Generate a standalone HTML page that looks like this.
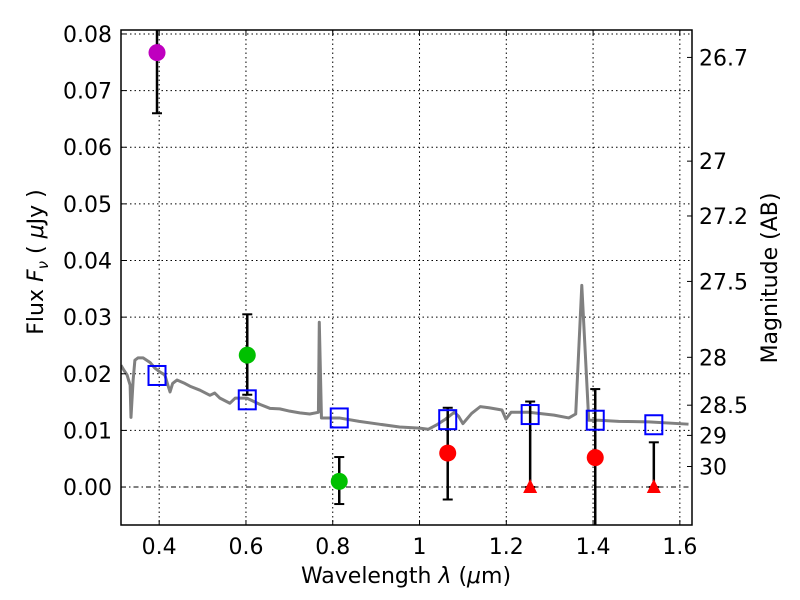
<!DOCTYPE html>
<html><head><meta charset="utf-8"><style>body{margin:0;background:#fff}svg{display:block;font-family:"DejaVu Sans","Liberation Sans",sans-serif}</style></head>
<body>
<svg id="chart" width="800" height="600"></svg>
<script>
const specLam=[0.312,0.319,0.326,0.333,0.335,0.340,0.344,0.351,0.363,0.379,0.390,0.402,0.413,0.420,0.425,0.431,0.441,0.459,0.471,0.494,0.517,0.528,0.540,0.563,0.575,0.586,0.602,0.632,0.655,0.678,0.701,0.724,0.747,0.767,0.769,0.774,0.815,0.861,0.907,0.954,1.0,1.02,1.04,1.06,1.08,1.09,1.10,1.12,1.14,1.16,1.19,1.199,1.211,1.252,1.310,1.344,1.360,1.374,1.390,1.413,1.459,1.528,1.620];
const specFlux=[0.0215,0.0206,0.0198,0.0180,0.0123,0.0189,0.0224,0.0228,0.0228,0.0220,0.0210,0.0203,0.0198,0.0180,0.0168,0.0183,0.0189,0.0183,0.0178,0.0171,0.0162,0.0166,0.0157,0.0148,0.0157,0.0157,0.0157,0.0146,0.0139,0.0138,0.0134,0.0131,0.0129,0.0132,0.0291,0.0122,0.0122,0.0116,0.0111,0.0106,0.0104,0.0102,0.0110,0.0120,0.0132,0.0125,0.0112,0.0130,0.0142,0.0140,0.0136,0.0120,0.0132,0.0132,0.0127,0.0122,0.0129,0.0356,0.0118,0.0118,0.0116,0.0115,0.0111];
const sqLam=[0.395,0.603,0.815,1.065,1.255,1.405,1.54];
const sqFlux=[0.0197,0.0154,0.0122,0.0119,0.0128,0.0118,0.011];
const ptLam=[0.395,0.603,0.815,1.065,1.405];
const ptFlux=[0.0767,0.0233,0.001,0.006,0.0052];
const ptLo=[0.066,0.0163,-0.003,-0.0022,-0.01];
const ptHi=[0.09,0.0305,0.0053,0.014,0.0173];
const ptColor=["#bf00bf","#00c000","#00c000","#ff0000","#ff0000"];
const triLam=[1.255,1.54];
const triHi=[0.0151,0.0079];
const xTicks=[0.4,0.6,0.8,1.0,1.2,1.4,1.6];
const xTickLabels=["0.4","0.6","0.8","1","1.2","1.4","1.6"];
const yTicks=[0,0.01,0.02,0.03,0.04,0.05,0.06,0.07,0.08];
const yTickLabels=["0.00","0.01","0.02","0.03","0.04","0.05","0.06","0.07","0.08"];
const magTicks=[26.7,27,27.2,27.5,28,28.5,29,30];

const L=121,R=692,T=30,B=525;
const x0=0.312,x1=1.628,y0=-0.0067,y1=0.0807;
const X=v=>L+(v-x0)/(x1-x0)*(R-L);
const Y=v=>B-(v-y0)/(y1-y0)*(B-T);
const svg=document.getElementById('chart');
const NS='http://www.w3.org/2000/svg';
function mk(t,a,p){const e=document.createElementNS(NS,t);for(const k in a)e.setAttribute(k,a[k]);(p||svg).appendChild(e);return e;}
const clip=mk('clipPath',{id:'pc'});mk('rect',{x:L,y:T,width:R-L,height:B-T},clip);
const plot=mk('g',{'clip-path':'url(#pc)'});


xTicks.forEach((t,i)=>{
 const g=mk('line',{x1:X(t),x2:X(t),y1:T,y2:B,stroke:'#000','stroke-dasharray':'1.5,3','stroke-width':1},plot);
 
 mk('line',{x1:X(t),x2:X(t),y1:B,y2:B-5,stroke:'#000'});
 mk('line',{x1:X(t),x2:X(t),y1:T,y2:T+5,stroke:'#000'});
 const tx=mk('text',{x:X(t),y:B+29,'text-anchor':'middle','font-size':22});tx.textContent=xTickLabels[i];
 
});
yTicks.forEach((t,i)=>{
 const g=mk('line',{x1:L,x2:R,y1:Y(t),y2:Y(t),stroke:'#000','stroke-dasharray':t===0?'5,3,1.5,3':'1.5,3','stroke-width':1},plot);
 
 mk('line',{x1:L,x2:L+5,y1:Y(t),y2:Y(t),stroke:'#000'});
 const tx=mk('text',{x:L-9,y:Y(t)+8,'text-anchor':'end','font-size':22});tx.textContent=yTickLabels[i];
 
});
magTicks.forEach(m=>{
 const f=Math.pow(10,(23.9-m)/2.5);
 mk('line',{x1:R,x2:R-5,y1:Y(f),y2:Y(f),stroke:'#000'});
 const tx=mk('text',{x:R+7,y:Y(f)+8,'font-size':22});tx.textContent=String(m);
 
});
const sp=mk('polyline',{points:specLam.map((l,i)=>X(l)+','+Y(specFlux[i])).join(' '),fill:'none',stroke:'#808080','stroke-width':3,'stroke-linejoin':'round'},plot);

function eb(l,lo,hi){
 mk('line',{x1:X(l),x2:X(l),y1:Y(lo),y2:Y(hi),stroke:'#000','stroke-width':2.5},plot);
 mk('line',{x1:X(l)-5,x2:X(l)+5,y1:Y(lo),y2:Y(lo),stroke:'#000','stroke-width':2},plot);
 mk('line',{x1:X(l)-5,x2:X(l)+5,y1:Y(hi),y2:Y(hi),stroke:'#000','stroke-width':2},plot);
}
ptLam.forEach((l,i)=>{
 eb(l,ptLo[i],ptHi[i]);
 const c=mk('circle',{cx:X(l),cy:Y(ptFlux[i]),r:8.5,fill:ptColor[i]},plot);
 
});
triLam.forEach((l,i)=>{
 eb(l,0,triHi[i]);
 const x=X(l),y=Y(0);
 const p=mk('polygon',{points:`${x},${y-8} ${x-7},${y+6} ${x+7},${y+6}`,fill:'#ff0000'},plot);
 
});
sqLam.forEach((l,i)=>{
 const s=mk('rect',{x:X(l)-8.5,y:Y(sqFlux[i])-9.5,width:17,height:19,fill:'none',stroke:'#0000ff','stroke-width':2},plot);
 
});
const fr=mk('rect',{x:L,y:T,width:R-L,height:B-T,fill:'none',stroke:'#000','stroke-width':1.5});

</script>
<svg width="800" height="600" style="position:absolute;left:0;top:0">
<text x="406" y="583" text-anchor="middle" font-size="22" font-family="DejaVu Sans, sans-serif">Wavelength  <tspan font-style="italic">λ</tspan> (<tspan font-style="italic">μ</tspan>m)</text>
<text transform="translate(43,262) rotate(-90)" text-anchor="middle" font-size="22" font-family="DejaVu Sans, sans-serif">Flux  <tspan font-style="italic">F</tspan><tspan font-style="italic" font-size="15" dy="5">ν</tspan><tspan dy="-5">  ( </tspan><tspan font-style="italic">μ</tspan>Jy )</text>
<text transform="translate(777,278) rotate(-90)" text-anchor="middle" font-size="22" font-family="DejaVu Sans, sans-serif">Magnitude (AB)</text>
</svg>
</body></html>
